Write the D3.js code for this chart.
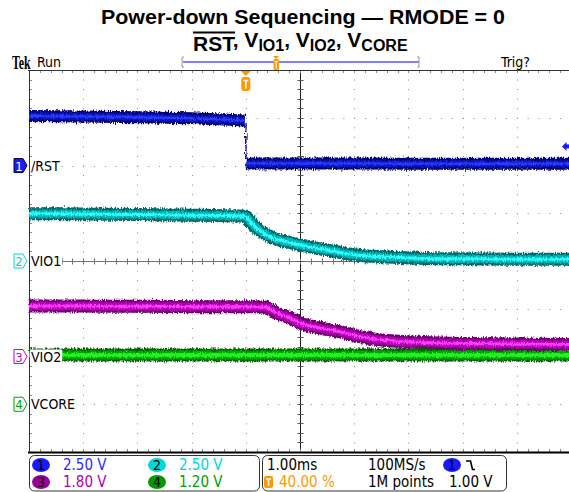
<!DOCTYPE html>
<html><head><meta charset="utf-8">
<script src="https://cdn.jsdelivr.net/npm/d3@7"></script>
<style>
html,body{margin:0;padding:0;background:#fff;}
svg{display:block;}
.nar{font-family:"Liberation Sans Narrow","DejaVu Sans Condensed","Arial Narrow",sans-serif;}
</style></head>
<body><svg id="c" width="569" height="492"></svg>
<script>
// ---------- data ----------
const channelNames = ["/RST", "VIO1", "VIO2", "VCORE"];
const channelIds = ["1", "2", "3", "4"];
const voltsPerDiv = [2.5, 2.5, 1.8, 1.2];
const groundDivFromTop = [2, 4, 6, 7];
const legendVoltLabels = ["2.50 V", "2.50 V", "1.80 V", "1.20 V"];

// time in ms relative to trigger, volts
const rstT = [-4, -3, -2, -1, -0.3, 0, 0.001, 1, 2, 3, 4, 5, 6];
const rstV = [2.59, 2.57, 2.53, 2.47, 2.40, 2.34, 0.10, 0.10, 0.10, 0.09, 0.09, 0.09, 0.09];

const vio1T = [-4, -3, -2, -1, -0.2, 0, 0.08, 0.2, 0.32, 0.5, 0.75, 1.0, 1.49, 1.98, 2.6, 3.58, 4.5, 6];
const vio1V = [2.48, 2.46, 2.44, 2.40, 2.36, 2.34, 2.06, 1.73, 1.47, 1.20, 1.01, 0.84, 0.58, 0.33, 0.21, 0.12, 0.10, 0.09];

const vio2T = [-4, -3, -2, -1, 0, 0.35, 0.57, 0.82, 1.0, 1.37, 1.74, 2.11, 2.6, 3.58, 4.5, 6];
const vio2V = [1.90, 1.90, 1.89, 1.88, 1.88, 1.87, 1.64, 1.45, 1.26, 1.07, 0.93, 0.75, 0.60, 0.51, 0.48, 0.45];

const vcoreT = [-4, -2, 0, 2, 4, 6];
const vcoreV = [1.24, 1.24, 1.24, 1.24, 1.24, 1.24];

const timePerDiv = "1.00ms";
const sampleRate = "100MS/s";
const recordLength = "1M points";
const triggerPos = "40.00 %";
const triggerLevel = "1.00 V";
const triggerLevelV = 1.0;
const titleLine1 = "Power-down Sequencing — RMODE = 0";

// ---------- layout ----------
const svg = d3.select("#c");
const L = 29, R = 571, T = 70, B = 452;
const divH = (B - T) / 8, divW = (R - L) / 10;
const x = d3.scaleLinear().domain([-4, 6]).range([L, R]);
const yScales = voltsPerDiv.map((vpd, i) => {
  const g = T + groundDivFromTop[i] * divH;
  return d3.scaleLinear().domain([0, vpd]).range([g, g - divH]);
});

// title
svg.append("text").attr("x", 303).attr("y", 24).attr("text-anchor", "middle")
  .attr("font-family", "Liberation Sans, Arial, sans-serif").attr("font-weight", "bold")
  .attr("font-size", 21).attr("textLength", 404).attr("lengthAdjust", "spacingAndGlyphs")
  .text(titleLine1);
const t2 = svg.append("text").attr("x", 193).attr("y", 51)
  .attr("font-family", "Liberation Sans, Arial, sans-serif").attr("font-weight", "bold").attr("font-size", 21);
const parts = [["RST", 0], [", V", 0], ["IO1", 1], [", V", 0], ["IO2", 1], [", V", 0], ["CORE", 1]];
parts.forEach(([s, sub], k) => {
  const ts = t2.append("tspan").text(s);
  if (sub) ts.attr("font-size", 16).attr("dy", 4);
  else if (k > 0) ts.attr("dy", -4);
});
svg.append("line").attr("x1", 193).attr("x2", 235).attr("y1", 32.5).attr("y2", 32.5)
  .attr("stroke", "#000").attr("stroke-width", 2);

// top bar
svg.append("text").attr("transform", "translate(12,69) scale(0.66,1)")
  .attr("font-family", "Liberation Serif, DejaVu Serif, serif")
  .attr("font-weight", "bold").attr("font-size", 18).text("Tek");
svg.append("text").attr("class", "nar").attr("x", 37).attr("y", 67).attr("font-size", 14).text("Run");
svg.append("text").attr("class", "nar").attr("x", 501).attr("y", 67).attr("font-size", 14).text("Trig?");
svg.append("line").attr("x1", 183).attr("x2", 419).attr("y1", 62).attr("y2", 62).attr("stroke", "#7f7fff").attr("stroke-width", 2);
svg.append("path").attr("d", "M184,57 H182 V67 H184 M417,57 H419 V67 H417").attr("fill", "none").attr("stroke", "#999").attr("stroke-width", 1);
// small T on record bar
svg.append("path").attr("d", "M273,56 H279 L276,59 Z").attr("fill", "#f90");
svg.append("rect").attr("x", 273.5).attr("y", 59).attr("width", 5.5).attr("height", 11).attr("rx", 1.5).attr("fill", "#f90");
svg.append("path").attr("d", "M274.5,61.5 H278 M276.2,61.5 V68.5").attr("stroke", "#fff").attr("stroke-width", 1);

// ---------- grid ----------
const grid = svg.append("g");
const dotC = "#8c8c8c";
for (let i = 1; i < 10; i++) {
  if (i === 5) continue;
  const gx = Math.round(L + i * divW);
  for (let k = 1; k < 40; k++) {
    const gy = T + k * divH / 5;
    grid.append("rect").attr("x", gx).attr("y", gy).attr("width", 1).attr("height", 1).attr("fill", dotC);
  }
}
for (let j = 1; j < 8; j++) {
  if (j === 4) continue;
  const gy = Math.round(T + j * divH);
  for (let k = 1; k < 50; k++) {
    const gx = L + k * divW / 5;
    grid.append("rect").attr("x", gx).attr("y", gy).attr("width", 1).attr("height", 1).attr("fill", dotC);
  }
}
const cx = Math.round(L + 5 * divW) + 0.5, cy = Math.round(T + 4 * divH) + 0.5;
grid.append("line").attr("x1", L).attr("x2", R).attr("y1", cy).attr("y2", cy).attr("stroke", "#707070");
grid.append("line").attr("x1", cx).attr("x2", cx).attr("y1", T).attr("y2", B).attr("stroke", "#222");
for (let k = 1; k < 50; k++) {
  const gx = Math.round(L + k * divW / 5) + 0.5;
  grid.append("line").attr("x1", gx).attr("x2", gx).attr("y1", cy - 3).attr("y2", cy + 3).attr("stroke", "#707070");
  grid.append("line").attr("x1", gx).attr("x2", gx).attr("y1", T).attr("y2", T + 3).attr("stroke", dotC);
  grid.append("line").attr("x1", gx).attr("x2", gx).attr("y1", B - 3).attr("y2", B).attr("stroke", dotC);
}
for (let k = 1; k < 40; k++) {
  const gy = Math.round(T + k * divH / 5) + 0.5;
  grid.append("line").attr("x1", cx - 3).attr("x2", cx + 3).attr("y1", gy).attr("y2", gy).attr("stroke", "#555");
  grid.append("line").attr("x1", L).attr("x2", L + 3).attr("y1", gy).attr("y2", gy).attr("stroke", dotC);
}
grid.append("line").attr("x1", L - 1).attr("x2", R).attr("y1", T + 0.5).attr("y2", T + 0.5).attr("stroke", "#333");
grid.append("line").attr("x1", L - 1).attr("x2", R).attr("y1", B + 0.5).attr("y2", B + 0.5).attr("stroke", "#000").attr("stroke-width", 2);
grid.append("line").attr("x1", L + 0.5).attr("x2", L + 0.5).attr("y1", T).attr("y2", B).attr("stroke", "#333");

// ---------- traces ----------
const defs = svg.append("defs");
const f = defs.append("filter").attr("id", "noise").attr("filterUnits", "userSpaceOnUse")
  .attr("x", 0).attr("y", 0).attr("width", 569).attr("height", 492);
f.append("feTurbulence").attr("type", "fractalNoise").attr("baseFrequency", "0.9 0.3").attr("numOctaves", 2).attr("seed", 3).attr("result", "t");
f.append("feDisplacementMap").attr("in", "SourceGraphic").attr("in2", "t").attr("scale", 5).attr("xChannelSelector", "R").attr("yChannelSelector", "G");

const series = [
  { T: rstT, V: rstV, curve: d3.curveLinear, layers: [["#00007a", 12], ["#0a14b8", 7], ["#2a3cff", 2.5]], edge: "#00008a" },
  { T: vio1T, V: vio1V, curve: d3.curveMonotoneX, layers: [["#006b6b", 13], ["#00b5b5", 8], ["#3ff", 3]], edge: "#006b6b" },
  { T: vio2T, V: vio2V, curve: d3.curveMonotoneX, layers: [["#700070", 13], ["#b400b4", 8], ["#ff3cff", 3]], edge: "#700070" },
  { T: vcoreT, V: vcoreV, curve: d3.curveLinear, layers: [["#005f00", 13], ["#00a800", 9], ["#22f022", 4]], edge: "#005f00" }
];
const traces = svg.append("g");
[3, 2, 1, 0].forEach(i => {
  const s = series[i];
  const pts = s.T.map((t, k) => [x(t), yScales[i](s.V[k])]);
  const runs = [[pts[0]]], edges = [];
  for (let k = 1; k < pts.length; k++) {
    const a = pts[k - 1], b = pts[k];
    if (Math.abs(b[0] - a[0]) < 2 && Math.abs(b[1] - a[1]) > 15) { edges.push([a, b]); runs.push([b]); }
    else runs[runs.length - 1].push(b);
  }
  const line = d3.line().curve(s.curve);
  const g = traces.append("g").attr("filter", "url(#noise)");
  edges.forEach(([a, b]) => {
    g.append("line").attr("x1", a[0]).attr("x2", b[0]).attr("y1", a[1] + 5).attr("y2", b[1] - 5)
      .attr("stroke", s.edge).attr("stroke-width", 1.5);
  });
  runs.filter(r => r.length > 1).forEach(r => {
    s.layers.forEach(([c, w]) => {
      g.append("path").attr("d", line(r)).attr("fill", "none").attr("stroke", c)
        .attr("stroke-width", w).attr("stroke-linejoin", "round").attr("stroke-linecap", "butt");
    });
  });
});

// trigger marker T (main)
const tx = x(0);
svg.append("path").attr("d", `M${tx - 5},71 H${tx + 5} L${tx},76 Z`).attr("fill", "#f90");
svg.append("rect").attr("x", tx - 4.5).attr("y", 77).attr("width", 9).attr("height", 14).attr("rx", 3).attr("fill", "#f90");
svg.append("path").attr("d", `M${tx - 2.5},80.5 H${tx + 2.5} M${tx},80.5 V88.5`).attr("stroke", "#fff").attr("stroke-width", 1.6);

// trigger level arrow
const ty = yScales[0](triggerLevelV);
svg.append("path").attr("d", `M562,${ty} L566.5,${ty - 4.5} L566.5,${ty + 4.5} Z`).attr("fill", "#1a1aff");
svg.append("rect").attr("x", 566).attr("y", ty - 2).attr("width", 3).attr("height", 4).attr("fill", "#1a1aff");

// ---------- channel markers and labels ----------
const chColors = ["#1a1aff", "#00d8d8", "#cc00cc", "#00a000"];
channelNames.forEach((name, i) => {
  const gy = yScales[i](0);
  const filled = i === 0;
  svg.append("path").attr("d", `M14,${gy - 7} H23 L27,${gy} L23,${gy + 7} H14 Z`)
    .attr("fill", filled ? "#1a1aff" : "#fff").attr("stroke", filled ? "#000050" : chColors[i]).attr("stroke-width", 1);
  svg.append("text").attr("class", "nar").attr("x", 19).attr("y", gy + 5).attr("text-anchor", "middle")
    .attr("font-size", 13).attr("fill", filled ? "#fff" : chColors[i]).text(channelIds[i]);
  const lt = svg.append("text").attr("class", "nar").attr("x", 31).attr("y", gy + 5)
    .attr("font-size", 14).attr("fill", "#000").text(name);
  const w = lt.node().getComputedTextLength();
  svg.insert("rect", "text:last-of-type").attr("x", 30).attr("y", gy - 7).attr("width", w + 2).attr("height", 14).attr("fill", "#fff");
});

// ---------- bottom readouts ----------
const bot = svg.append("g").attr("class", "nar");
bot.append("rect").attr("x", 29.5).attr("y", 455.5).attr("width", 230).attr("height", 35.5).attr("rx", 5)
  .attr("fill", "#fff").attr("stroke", "#333");
bot.append("rect").attr("x", 262.5).attr("y", 455.5).attr("width", 244).attr("height", 35.5).attr("rx", 5)
  .attr("fill", "#fff").attr("stroke", "#333");
const circFill = ["#1a1aff", "#00d8d8", "#990099", "#009900"];
const txtFill = ["#2a2aff", "#00d8d8", "#b000b0", "#00a000"];
const legPos = [[41, 465], [157, 465], [41, 482], [157, 482]];
legPos.forEach(([px, py], i) => {
  bot.append("ellipse").attr("cx", px).attr("cy", py).attr("rx", 9).attr("ry", 7).attr("fill", circFill[i]);
  bot.append("text").attr("x", px).attr("y", py + 5).attr("text-anchor", "middle").attr("font-size", 14).attr("fill", "#000").text(channelIds[i]);
  bot.append("text").attr("x", px + 22).attr("y", py + 5).attr("font-size", 15).attr("fill", txtFill[i]).text(legendVoltLabels[i]);
});
bot.append("text").attr("x", 267).attr("y", 470).attr("font-size", 15).text(timePerDiv);
bot.append("text").attr("x", 368).attr("y", 470).attr("font-size", 15).text(sampleRate);
bot.append("text").attr("x", 368).attr("y", 487).attr("font-size", 15).text(recordLength);
bot.append("text").attr("x", 449).attr("y", 487).attr("font-size", 15).text(triggerLevel);
bot.append("text").attr("x", 279).attr("y", 487).attr("font-size", 15).attr("fill", "#f90").text(triggerPos);
bot.append("rect").attr("x", 264).attr("y", 476).attr("width", 9).attr("height", 12).attr("rx", 2).attr("fill", "#f90");
bot.append("path").attr("d", "M266,479 H271 M268.5,479 V486").attr("stroke", "#fff").attr("stroke-width", 1.6);
bot.append("ellipse").attr("cx", 452).attr("cy", 465).attr("rx", 9).attr("ry", 7).attr("fill", "#1a1aff");
bot.append("text").attr("x", 452).attr("y", 470).attr("text-anchor", "middle").attr("font-size", 14).text("1");
bot.append("path").attr("d", "M466,461 H470.5 L472.5,469.5 H475").attr("fill", "none").attr("stroke", "#000").attr("stroke-width", 1.6);
</script></body></html>
